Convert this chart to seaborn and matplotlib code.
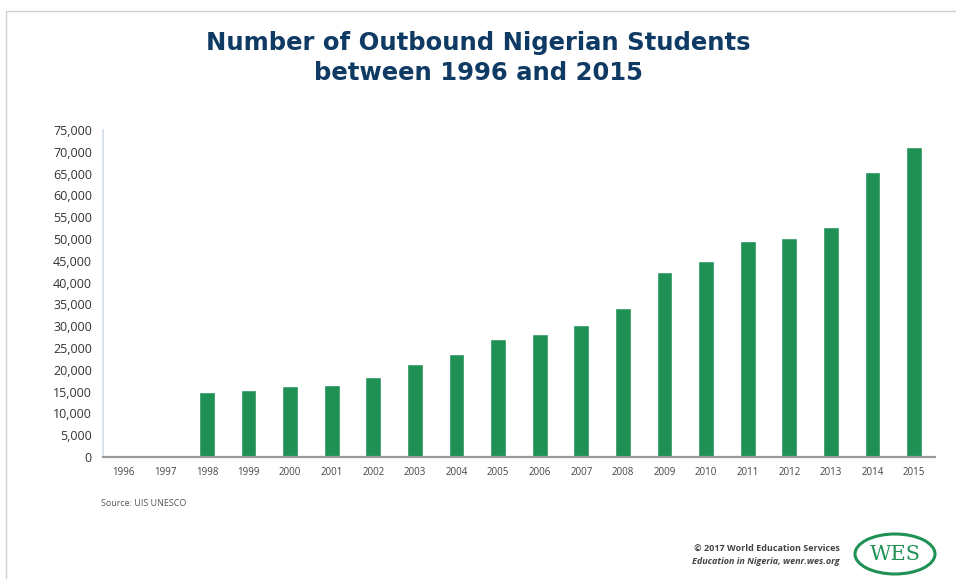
import numpy as np
import pandas as pd
import matplotlib
matplotlib.use('Agg')
import matplotlib.pyplot as plt
import seaborn as sns
from matplotlib.ticker import FuncFormatter
from matplotlib.patches import Ellipse, Rectangle

years = [str(y) for y in range(1996, 2016)]
students = [0, 0, 15000, 15400, 16300, 16500, 18400, 21300, 23600, 27000,
            28100, 30200, 34200, 42500, 45000, 49600, 50300, 52800, 65400, 71200]

BAR_GREEN = '#1f9155'
TITLE_NAVY = '#0f3a63'

df = pd.DataFrame({'Year': years, 'Students': students})

sns.set_theme(style='white')
plt.rcParams['font.family'] = ['Open Sans', 'DejaVu Sans']

fig = plt.figure(figsize=(9.56, 5.79), dpi=100)
ax = fig.add_axes([0.1077, 0.2107, 0.8703, 0.5648])

sns.barplot(data=df, x='Year', y='Students', color=BAR_GREEN, width=0.38,
            saturation=1, ax=ax)

ax.set_ylim(0, 75000)
ax.set_yticks(np.arange(0, 75001, 5000))
ax.yaxis.set_major_formatter(FuncFormatter(lambda v, p: f'{int(v):,}'))
ax.set_xlabel('')
ax.set_ylabel('')
ax.tick_params(axis='y', labelsize=9, colors='#333333', length=0, pad=8)
ax.tick_params(axis='x', labelsize=7, colors='#444444', length=0, pad=7)

sns.despine(ax=ax, top=True, right=True)
ax.spines['left'].set_color('#d5dde6')
ax.spines['left'].set_linewidth(1.2)
ax.spines['bottom'].set_color('#9a9a9a')
ax.spines['bottom'].set_linewidth(1.6)

fig.text(0.5, 1 - 58 / 579, 'Number of Outbound Nigerian Students\nbetween 1996 and 2015',
         ha='center', va='center', fontsize=17.5, fontweight='bold',
         color=TITLE_NAVY, linespacing=1.3, family='DejaVu Sans')

fig.text(101 / 956, 1 - 503 / 579, 'Source: UIS UNESCO', ha='left', va='center',
         fontsize=6.5, color='#555555')

fig.text(840 / 956, 1 - 548 / 579, '© 2017 World Education Services', ha='right',
         va='center', fontsize=6.5, color='#444444', fontweight='bold')
fig.text(840 / 956, 1 - 561 / 579, 'Education in Nigeria, wenr.wes.org', ha='right',
         va='center', fontsize=6.5, color='#444444', style='italic', fontweight='bold')

# WES logo
logo = Ellipse((895 / 956, 1 - 554 / 579), 80 / 956, 40 / 579,
               transform=fig.transFigure, fill=False, edgecolor=BAR_GREEN, linewidth=2.2)
fig.patches.append(logo)
fig.text(895 / 956, 1 - 554 / 579, 'WES', ha='center', va='center',
         fontsize=15, color=BAR_GREEN, family='DejaVu Serif')

# thin frame around the figure
frame = Rectangle((6 / 956, -0.05), 1.0, 1 - 11 / 579 + 0.05, transform=fig.transFigure,
                  fill=False, edgecolor='#d0d0d0', linewidth=1)
fig.patches.append(frame)

fig.savefig('out.png', dpi=100, facecolor='white')
